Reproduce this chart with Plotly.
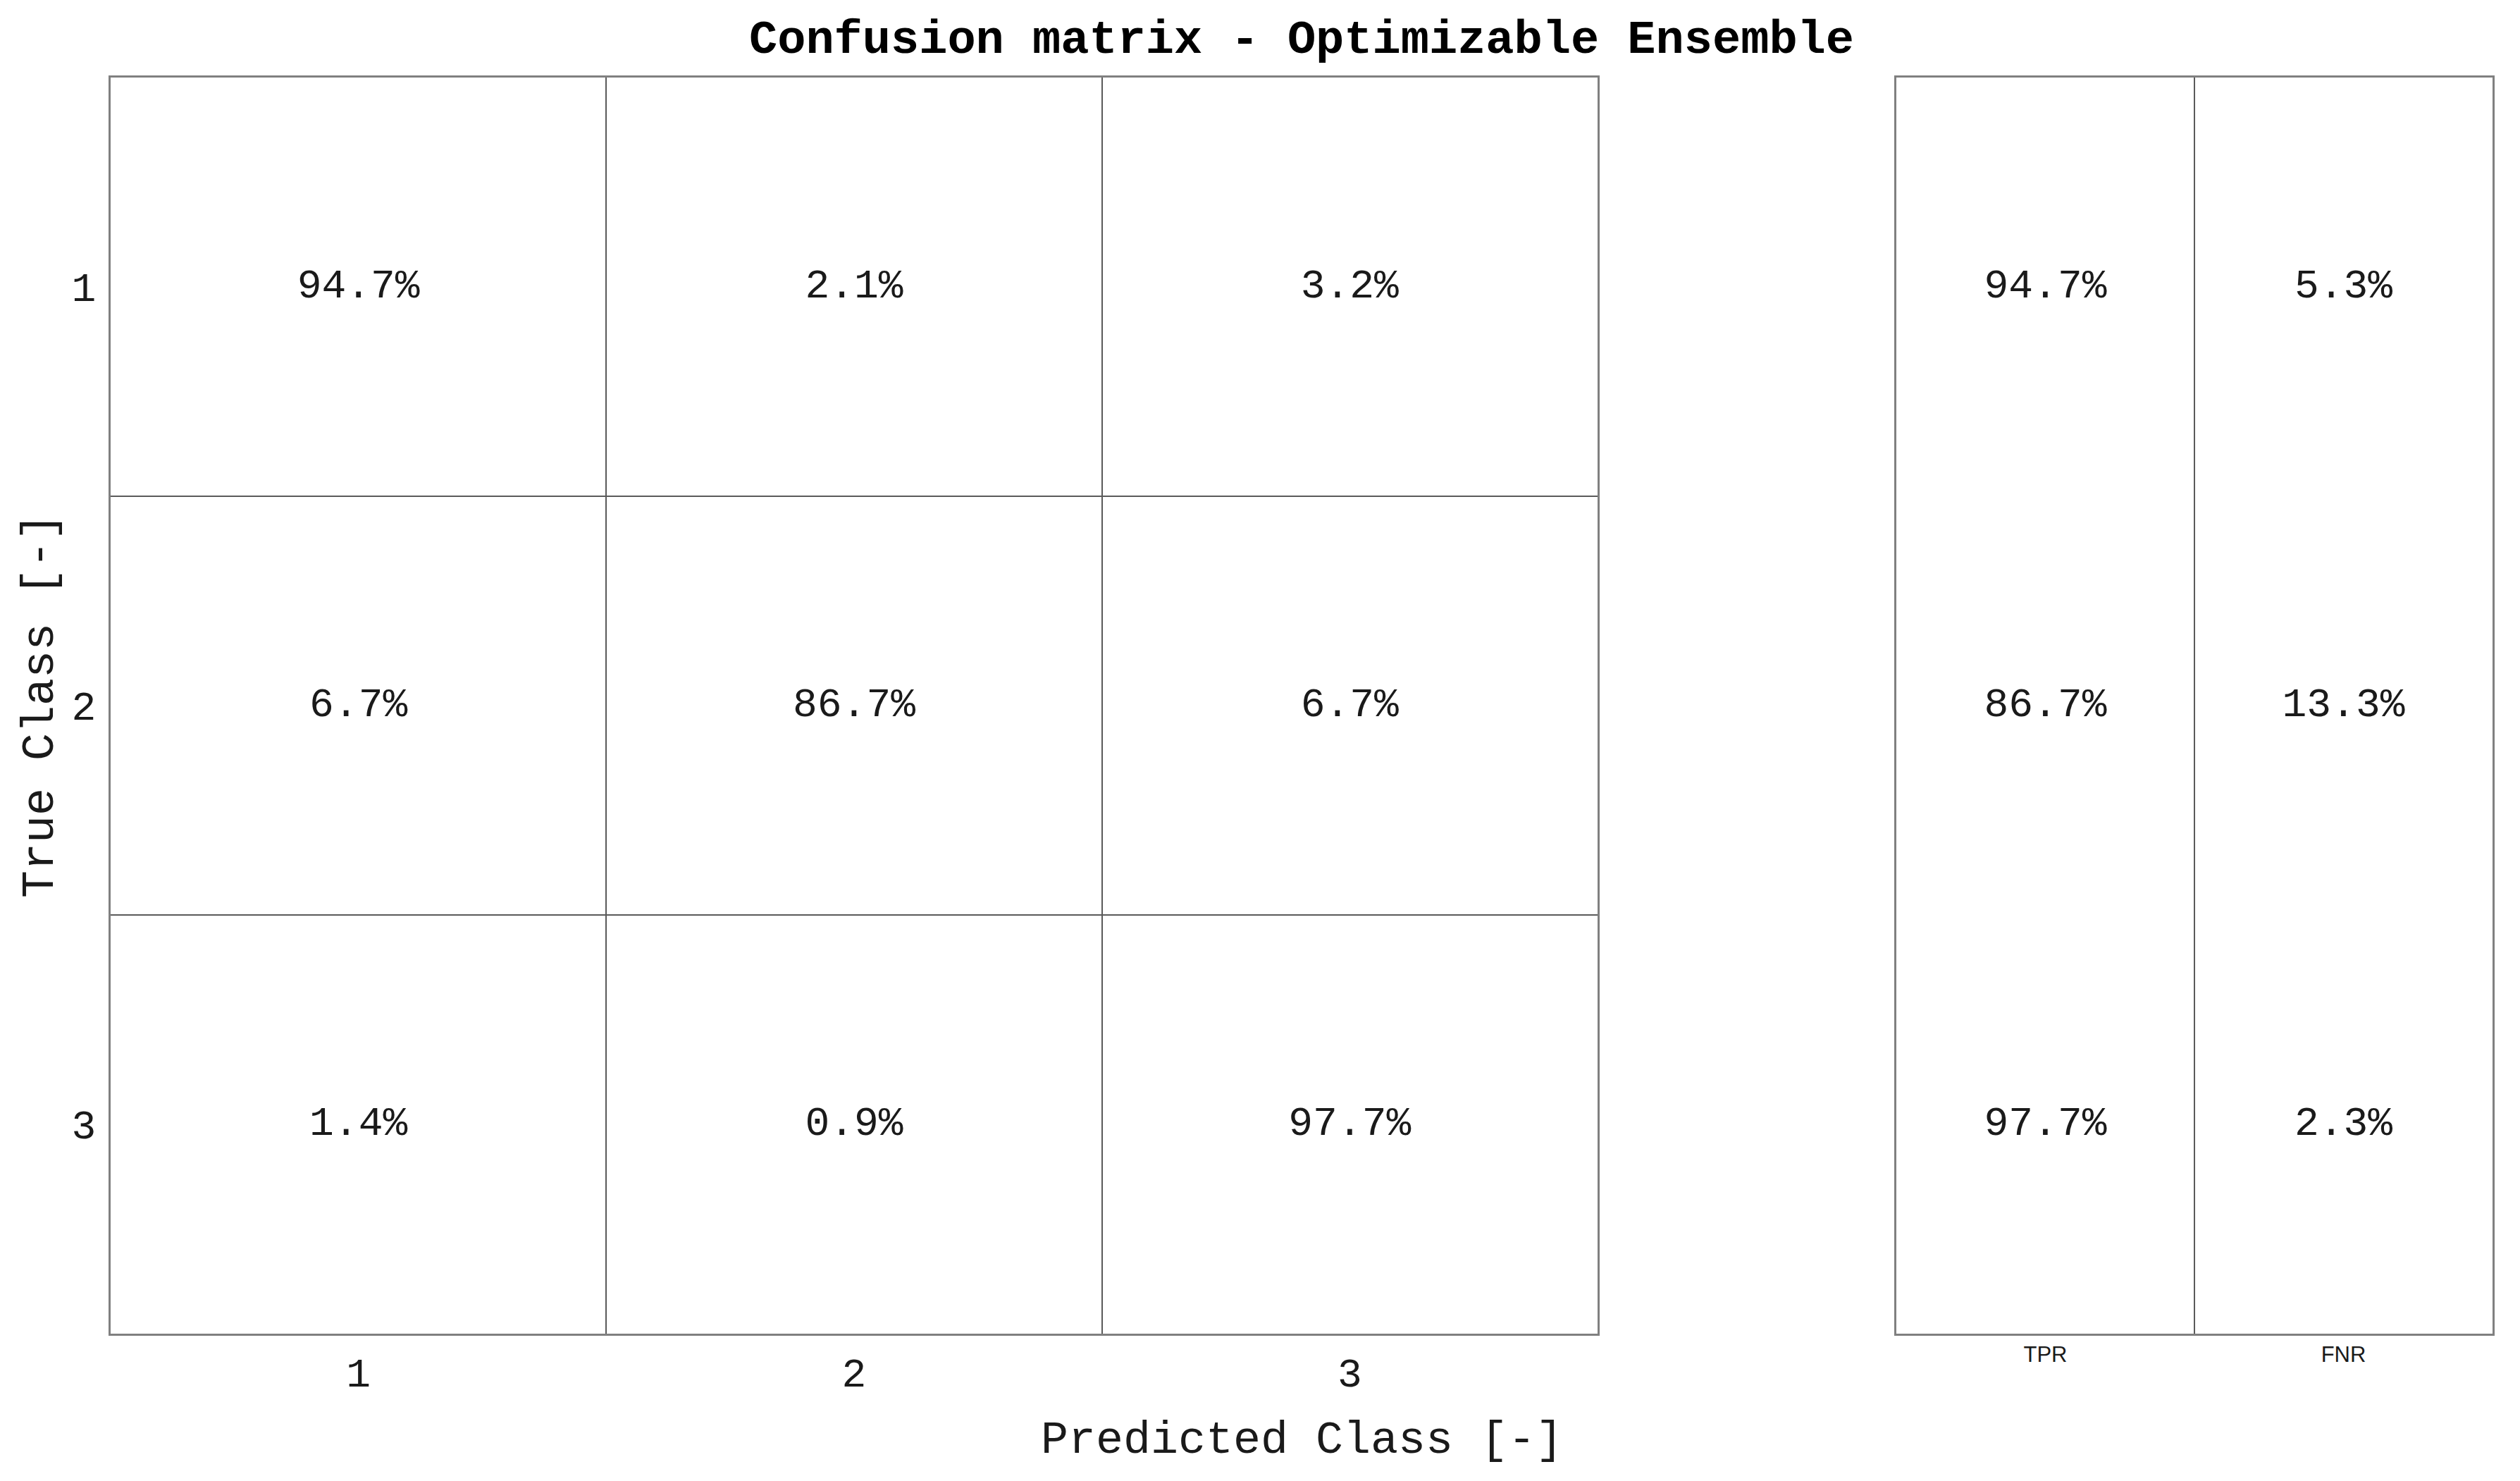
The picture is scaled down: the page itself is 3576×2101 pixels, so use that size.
import plotly.graph_objects as go

# ---- data ----
classes = ["1", "2", "3"]
pred_pos = [1, 2, 3]
true_pos = [1, 2, 3]
cm_row1 = [94.7, 2.1, 3.2]
cm_row2 = [6.7, 86.7, 6.7]
cm_row3 = [1.4, 0.9, 97.7]
rate_labels = ["TPR", "FNR"]
rate_pos = [1, 2]
tpr = [94.7, 86.7, 97.7]
fnr = [5.3, 13.3, 2.3]

W, H = 3576, 2101
mono = "Liberation Mono, Courier New, monospace"
line_col = "#808080"
text_col = "#1a1a1a"

cm = [cm_row1, cm_row2, cm_row3]
rates = [[t, f] for t, f in zip(tpr, fnr)]

cx, cy, ct = [], [], []
for i, row in enumerate(cm):
    for j, v in enumerate(row):
        cx.append(pred_pos[j]); cy.append(true_pos[i]); ct.append(f"{v:.1f}%")
rx, ry, rt = [], [], []
for i, row in enumerate(rates):
    for j, v in enumerate(row):
        rx.append(rate_pos[j]); ry.append(true_pos[i]); rt.append(f"{v:.1f}%")

fig = go.Figure()
fig.add_trace(go.Scatter(
    x=cx, y=cy, text=ct, mode="text", showlegend=False, hoverinfo="skip",
    textfont=dict(family=mono, size=58, color=text_col), xaxis="x", yaxis="y"))
fig.add_trace(go.Scatter(
    x=rx, y=ry, text=rt, mode="text", showlegend=False, hoverinfo="skip",
    textfont=dict(family=mono, size=58, color=text_col), xaxis="x2", yaxis="y2"))

ml, mr, mt, mb = 149, 47, 102, 217
pw = W - ml - mr
ph = H - mt - mb
d1 = (2259 - ml) / pw
d2 = (2683 - ml) / pw

common = dict(showline=True, mirror=True, linecolor=line_col, linewidth=3,
              showgrid=False, zeroline=False, ticks="",
              minor=dict(showgrid=True, gridcolor="#5a5a5a", gridwidth=2,
                         tick0=0.5, dtick=1))
fig.update_layout(
    width=W, height=H,
    paper_bgcolor="white", plot_bgcolor="white",
    margin=dict(l=ml, r=mr, t=mt, b=mb),
    xaxis=dict(domain=[0, d1], range=[0.5, 3.5], tickmode="array",
               tickvals=pred_pos, ticktext=classes,
               tickfont=dict(family=mono, size=58, color=text_col),
               ticklabelstandoff=2, anchor="y", **common),
    yaxis=dict(domain=[0, 1], range=[3.5, 0.5], tickmode="array",
               tickvals=true_pos, ticktext=classes,
               tickfont=dict(family=mono, size=58, color=text_col),
               ticklabelstandoff=6, anchor="x", **common),
    xaxis2=dict(domain=[d2, 1], range=[0.5, 2.5], tickmode="array",
                tickvals=rate_pos, ticktext=rate_labels,
                tickfont=dict(family="Liberation Sans, Arial, sans-serif", size=31, color=text_col),
                ticklabelstandoff=0, anchor="y2", **common),
    yaxis2=dict(domain=[0, 1], range=[3.5, 0.5], anchor="x2", showticklabels=False,
                **common),
    title=dict(text="<b>Confusion matrix - Optimizable Ensemble</b>",
               font=dict(family=mono, size=67, color="black"),
               x=0.5, xref="paper", xanchor="center",
               y=1 - 44 / H, yref="container", yanchor="middle"),
    annotations=[
        dict(text="Predicted Class [-]", xref="paper", yref="paper",
             x=0.5, y=-(2036 - (H - mb)) / ph, xanchor="center", yanchor="middle",
             showarrow=False, font=dict(family=mono, size=65, color=text_col)),
        dict(text="True Class [-]", xref="paper", yref="paper",
             x=-(ml - 50) / pw, y=0.5, xanchor="center", yanchor="middle",
             textangle=-90, showarrow=False,
             font=dict(family=mono, size=65, color=text_col)),
    ],
)

fig.write_html("out.html")
